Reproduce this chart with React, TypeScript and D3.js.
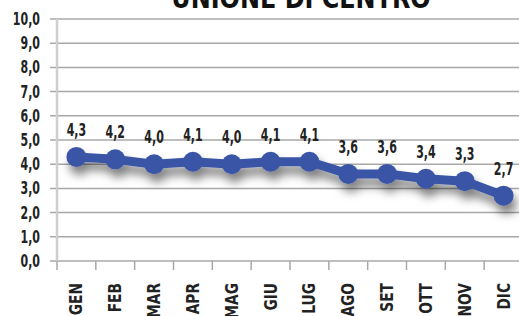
import React, { useEffect, useRef } from 'react';
import * as d3 from 'd3';

const months = ['GEN', 'FEB', 'MAR', 'APR', 'MAG', 'GIU', 'LUG', 'AGO', 'SET', 'OTT', 'NOV', 'DIC'];
const values = [4.3, 4.2, 4.0, 4.1, 4.0, 4.1, 4.1, 3.6, 3.6, 3.4, 3.3, 2.7];
const yTicks = [0, 1, 2, 3, 4, 5, 6, 7, 8, 9, 10];
const title = 'UNIONE DI CENTRO';

const width = 519;
const height = 316;
const blue = '#3b55a6';
const font = '"DejaVu Sans Condensed", "DejaVu Sans", sans-serif';
const squeeze = 'scale(0.72,1)';

export default function App() {
  const ref = useRef<SVGSVGElement>(null);

  useEffect(() => {
    draw();
  }, []);

  function draw() {
    const svg = d3.select(ref.current);
    svg.selectAll('*').remove();

    const x = d3.scaleBand().domain(months).range([57, 523]);
    const y = d3.scaleLinear().domain([0, 10]).range([261, 19]);
    const fmt = (v: number) => v.toFixed(1).replace('.', ',');

    const defs = svg.append('defs');
    const filter = defs.append('filter').attr('id', 'shadow')
      .attr('x', '-20%').attr('y', '-80%').attr('width', '140%').attr('height', '300%');
    filter.append('feDropShadow')
      .attr('dx', 3).attr('dy', 8).attr('stdDeviation', 5)
      .attr('flood-color', '#000').attr('flood-opacity', 0.5);

    // title (cut off at top)
    svg.append('text')
      .attr('transform', `translate(301,8) scale(0.95,1)`)
      .attr('text-anchor', 'middle')
      .attr('font-family', font).attr('font-weight', 'bold')
      .attr('font-size', 28)
      .attr('fill', '#111')
      .text(title);

    // gridlines
    svg.append('g').selectAll('line')
      .data(yTicks)
      .enter()
      .append('line')
      .attr('x1', 50).attr('x2', width)
      .attr('y1', (d) => y(d)).attr('y2', (d) => y(d))
      .attr('stroke', '#a8a8a8').attr('stroke-width', 1.5);

    // y axis line
    svg.append('line')
      .attr('x1', 57).attr('x2', 57)
      .attr('y1', y(10)).attr('y2', y(0))
      .attr('stroke', '#cfcfcf').attr('stroke-width', 2.5);

    // x ticks
    svg.append('g').selectAll('line')
      .data(months)
      .enter()
      .append('line')
      .attr('x1', (d) => x(d)!).attr('x2', (d) => x(d)!)
      .attr('y1', y(0)).attr('y2', y(0) + 9)
      .attr('stroke', '#a8a8a8').attr('stroke-width', 1.5);

    // y labels
    svg.append('g').selectAll('text')
      .data(yTicks)
      .enter()
      .append('text')
      .attr('transform', (d) => `translate(40,${y(d) + 6}) ${squeeze}`)
      .attr('text-anchor', 'end')
      .attr('font-family', font).attr('font-weight', 'bold')
      .attr('font-size', 17)
      .attr('fill', '#222')
      .text((d) => fmt(d));

    // x labels (run off the bottom edge, as in the source)
    svg.append('g').selectAll('text')
      .data(months)
      .enter()
      .append('text')
      .attr('transform', (d) => `translate(${x(d)! + x.bandwidth() / 2 + 6},283) rotate(-90) scale(0.9,1)`)
      .attr('text-anchor', 'end')
      .attr('font-family', font).attr('font-weight', 'bold')
      .attr('font-size', 17)
      .attr('fill', '#222')
      .text((d) => d);

    const cx = (i: number) => x(months[i])! + x.bandwidth() / 2;

    const series = svg.append('g').attr('filter', 'url(#shadow)');
    const line = d3.line<number>()
      .x((d, i) => cx(i))
      .y((d) => y(d));
    series.append('path')
      .attr('d', line(values))
      .attr('fill', 'none')
      .attr('stroke', blue)
      .attr('stroke-width', 9)
      .attr('stroke-linejoin', 'round');
    series.selectAll('circle')
      .data(values)
      .enter()
      .append('circle')
      .attr('cx', (d, i) => cx(i))
      .attr('cy', (d) => y(d))
      .attr('r', 10)
      .attr('fill', blue);

    // value labels
    svg.append('g').selectAll('text')
      .data(values)
      .enter()
      .append('text')
      .attr('transform', (d, i) => `translate(${cx(i)},${y(d) - 21}) ${squeeze}`)
      .attr('text-anchor', 'middle')
      .attr('font-family', font).attr('font-weight', 'bold')
      .attr('font-size', 17)
      .attr('fill', '#222')
      .text((d) => fmt(d));
  }

  return (
    <svg ref={ref} width={width} height={height}
      style={{ position: 'absolute', left: 0, top: 0, background: '#fff' }} />
  );
}
